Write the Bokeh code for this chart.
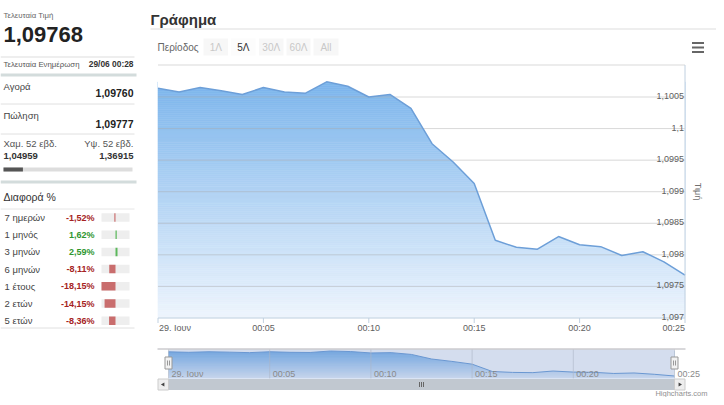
import numpy as np
from bokeh.plotting import figure
from bokeh.models import Range1d
from bokeh.core.properties import value
from bokeh.embed import file_html
from bokeh.resources import INLINE

# ---------------- data ----------------
last_price = 1.09768
last_price_text = "1,09768"
update_time = "29/06 00:28"
bid_text = "1,09760"
ask_text = "1,09777"
low_52w = 1.04959
high_52w = 1.36915
low_52w_text = "1,04959"
high_52w_text = "1,36915"

diff_periods = ["7 ημερών", "1 μηνός", "3 μηνών", "6 μηνών", "1 έτους", "2 ετών", "5 ετών"]
diff_pct = [-1.52, 1.62, 2.59, -8.11, -18.15, -14.15, -8.36]

times = ["00:00", "00:01", "00:02", "00:03", "00:04", "00:05", "00:06", "00:07",
         "00:08", "00:09", "00:10", "00:11", "00:12", "00:13", "00:14", "00:15",
         "00:16", "00:17", "00:18", "00:19", "00:20", "00:21", "00:22", "00:23",
         "00:24", "00:25"]
prices = [1.10064, 1.10058, 1.10065, 1.10060, 1.10054, 1.10065, 1.10058, 1.10056,
          1.10074, 1.10067, 1.10050, 1.10054, 1.10032, 1.09976, 1.09947, 1.09913,
          1.09823, 1.09812, 1.09809, 1.09829, 1.09816, 1.09813, 1.09799, 1.09805,
          1.09789, 1.09768]

y_ticks = [1.097, 1.0975, 1.098, 1.0985, 1.099, 1.0995, 1.1, 1.1005]
y_tick_labels = ["1,097", "1,0975", "1,098", "1,0985", "1,099", "1,0995", "1,1", "1,1005"]
x_ticks = ["00:00", "00:05", "00:10", "00:15", "00:20", "00:25"]
x_tick_labels = ["29. Ιουν", "00:05", "00:10", "00:15", "00:20", "00:25"]
period_buttons = ["1Λ", "5Λ", "30Λ", "60Λ", "All"]
selected_period = "5Λ"


def to_min(s):
    h, m = s.split(":")
    return int(h) * 60 + int(m)


t_min = [to_min(s) for s in times]
xt_min = [to_min(s) for s in x_ticks]
T0, T1 = t_min[0], t_min[-1]

# ---------------- canvas (image-pixel coordinates) ----------------
W, H = 716, 397
X0, X1 = 0, W        # image x at canvas left / right
YB, YT = H, 0        # image y at canvas bottom / top

p = figure(width=W, height=H, x_range=Range1d(X0, X1), y_range=Range1d(YB, YT),
           output_backend="svg", toolbar_location=None,
           x_axis_location=None, y_axis_location=None, min_border=0)
p.outline_line_color = None
p.grid.visible = False
p.background_fill_color = "white"
p.border_fill_color = "white"


def mapper(v0, p0, v1, p1):
    s = (p1 - p0) / (v1 - v0)
    return (lambda v: p0 + (v - v0) * s), (lambda q: v0 + (q - p0) / s)


# main chart plot area
PL, PR, PT, PB = 157.5, 684.5, 64.5, 317.5
_, mx_inv = mapper(T0, PL, T1, PR)
_, my_inv = mapper(y_ticks[0], PB, y_ticks[-1], 96.5)
# navigator area
NS = -6.0   # vertical shift of navigator block (keeps credits on canvas)
NL, NR, NT, NBOT = 168.0, 674.0, 355.0 + NS, 384.0 + NS
_, nx_inv = mapper(T0, NL, T1, NR)
_, ny_inv = mapper(min(prices), 381.5 + NS, max(prices), 356.5 + NS)
# left panel scales
LX, RX = 3, 133
_, rx_inv = mapper(low_52w, LX, high_52w, RX - 1)
dmax = max(abs(v) for v in diff_pct)
_, dx_inv = mapper(-dmax, 101, dmax, 129)

p.extra_x_ranges = {
    "mx": Range1d(mx_inv(X0), mx_inv(X1)),
    "nx": Range1d(nx_inv(X0), nx_inv(X1)),
    "rx": Range1d(rx_inv(X0), rx_inv(X1)),
    "dx": Range1d(dx_inv(X0), dx_inv(X1)),
}
p.extra_y_ranges = {
    "my": Range1d(my_inv(YB), my_inv(YT)),
    "ny": Range1d(ny_inv(YB), ny_inv(YT)),
}


def put_text(x, y, texts, size, color="#333333", align="left", baseline="middle",
             bold=False, font="Liberation Sans", angle=0.0, **kw):
    if isinstance(texts, str):
        texts = [texts]
    n = len(texts)
    xs = list(x) if isinstance(x, (list, tuple, np.ndarray)) else [x] * n
    ys = list(y) if isinstance(y, (list, tuple, np.ndarray)) else [y] * n
    p.text(x=xs, y=ys, text=texts, text_font=value(font), text_font_size=f"{size}px",
           text_color=color, text_align=align, text_baseline=baseline,
           text_font_style="bold" if bold else "normal", angle=angle, **kw)


def hline(x0, x1, y, color, width=1, **kw):
    p.segment(x0=[x0], x1=[x1], y0=[y], y1=[y], line_color=color, line_width=width, **kw)


def hexc(c):
    return "#%02x%02x%02x" % tuple(int(round(v)) for v in c)


C_TOP = np.array([124, 181, 236])
C_BOT = np.array([238, 245, 253])

# ---------------- left panel ----------------
put_text(LX, 15, "Τελευταία Τιμή", 7.8, "#666666")
put_text(LX, 33.5, last_price_text, 22, "#222222", bold=True)
hline(0, 134, 56.5, "#dddddd")
put_text(LX, 63.5, "Τελευταία Ενημέρωση", 7.8, "#555555")
put_text(RX, 63.5, update_time, 8.4, "#333333", align="right", bold=True)
hline(0, 136, 74.5, "#d3dcdc", 3)
put_text(LX, 86, "Αγορά", 9.5, "#444444")
put_text(RX, 92.5, bid_text, 10.5, "#222222", align="right", bold=True)
hline(0, 134, 103.5, "#e0e0e0")
put_text(LX, 115, "Πώληση", 9.5, "#444444")
put_text(RX, 123.5, ask_text, 10.5, "#222222", align="right", bold=True)
hline(0, 134, 133.5, "#e0e0e0")
put_text(LX, 142.5, "Χαμ. 52 εβδ.", 9.5, "#555555")
put_text(RX, 142.5, "Υψ. 52 εβδ.", 9.5, "#555555", align="right")
put_text(LX, 155, low_52w_text, 9.5, "#333333", bold=True)
put_text(RX, 155, high_52w_text, 9.5, "#333333", align="right", bold=True)
p.hbar(y=[169], left=[low_52w], right=[high_52w], height=4, fill_color="#dddddd",
       line_color=None, x_range_name="rx")
p.hbar(y=[169], left=[low_52w], right=[last_price], height=4, fill_color="#555555",
       line_color=None, x_range_name="rx")
hline(0, 136, 181.5, "#d3dcdc", 3)
put_text(LX, 196.5, "Διαφορά %", 10.5, "#333333")
hline(0, 134, 208.5, "#e6e6e6")

rows_y = [217 + i * 17.2 for i in range(len(diff_periods))]
pct_text = [("%.2f%%" % v).replace(".", ",") for v in diff_pct]
pct_color = ["#a52222" if v < 0 else "#2f962f" for v in diff_pct]
bar_color = ["#c96d6d" if v < 0 else "#5cb85c" for v in diff_pct]
put_text(LX + 1, rows_y, diff_periods, 9.5, "#444444")
p.text(x=[94] * len(rows_y), y=rows_y, text=pct_text, text_font=value("Liberation Sans"),
       text_font_size="9px", text_color=pct_color, text_align="right",
       text_baseline="middle", text_font_style="bold")
p.hbar(y=rows_y, left=-dmax, right=dmax, height=8.5, fill_color="#eeeeee",
       line_color=None, x_range_name="dx")
p.hbar(y=rows_y, left=[min(0, v) for v in diff_pct], right=[max(0, v) for v in diff_pct],
       height=8.5, fill_color=bar_color, line_color=None, x_range_name="dx")
hline(0, 134, 327.5, "#e0e0e0")

# ---------------- chart header ----------------
put_text(150, 18.5, "Γράφημα", 15, "#333333", bold=True)
hline(150, 716, 28.5, "#dddddd")
put_text(157, 46.5, "Περίοδος", 10, "#666666")
btn_l = [203, 230.5, 258.5, 286, 313]
btn_w = [24.5, 24.5, 24.5, 24, 25]
for bl, bw, lab in zip(btn_l, btn_w, period_buttons):
    sel = lab == selected_period
    p.quad(left=[bl], right=[bl + bw], top=[38], bottom=[55],
           fill_color="#f7f7f7" if not sel else "#fcfcfc", line_color=None)
    put_text(bl + bw / 2, 46.5, lab, 10, "#333333" if sel else "#c8c8c8", align="center")
for yy in (42.5, 47, 51.5):
    hline(691.5, 703.5, yy, "#666666", 2)

# ---------------- main chart ----------------
vmax = max(prices)
nb = 120
edges = np.linspace(y_ticks[0], vmax, nb + 1)
cols = [hexc(C_BOT + (C_TOP - C_BOT) * ((i + 0.5) / nb)) for i in range(nb)]
p.quad(left=T0, right=T1, bottom=edges[:-1], top=edges[1:], fill_color=cols,
       line_color=cols, line_width=0.6, x_range_name="mx", y_range_name="my")
v_top = my_inv(PT)
p.varea(x=t_min, y1=prices, y2=v_top, fill_color="white",
        x_range_name="mx", y_range_name="my")
p.segment(x0=T0, x1=T1, y0=y_ticks[1:], y1=y_ticks[1:], line_color="#a8a8a8",
          line_alpha=0.45, line_width=1, x_range_name="mx", y_range_name="my")
p.line(x=t_min, y=prices, line_color="#6d9fd8", line_width=1.5,
       x_range_name="mx", y_range_name="my")
# plot border / axes
hline(PL, PR, PT, "#d9d9d9")
p.segment(x0=[T0], x1=[T1], y0=[y_ticks[0]], y1=[y_ticks[0]], line_color="#c0d0e0",
          line_width=1, x_range_name="mx", y_range_name="my")
p.segment(x0=[T1], x1=[T1], y0=[y_ticks[0]], y1=[v_top], line_color="#c0d0e0",
          line_width=1, x_range_name="mx", y_range_name="my")
p.segment(x0=xt_min, x1=xt_min, y0=PB, y1=PB + 5, line_color="#c0d0e0",
          line_width=1, x_range_name="mx")
put_text(xt_min[0], 327.5, x_tick_labels[0], 9, "#606060", x_offset=1, x_range_name="mx")
put_text(xt_min[1:-1], 327.5, x_tick_labels[1:-1], 9, "#606060", align="center",
         x_range_name="mx")
put_text(xt_min[-1], 327.5, x_tick_labels[-1], 9, "#606060", align="right",
         x_range_name="mx")
put_text([T1] * len(y_ticks), y_ticks, y_tick_labels, 9, "#606060", align="right",
         baseline="alphabetic", x_offset=-1, y_offset=-1,
         x_range_name="mx", y_range_name="my")
put_text(697, (PT + PB) / 2, "Τιμή", 9, "#707070", align="center", angle=-np.pi / 2)

# ---------------- navigator ----------------
nv_bot = ny_inv(NBOT)
nedges = np.linspace(nv_bot, vmax, 41)
ncols = [hexc(C_BOT + (C_TOP - C_BOT) * ((i + 0.5) / 40)) for i in range(40)]
p.quad(left=T0, right=T1, bottom=nedges[:-1], top=nedges[1:], fill_color=ncols,
       line_color=ncols, line_width=0.6, x_range_name="nx", y_range_name="ny")
p.varea(x=t_min, y1=prices, y2=ny_inv(NT), fill_color="white",
        x_range_name="nx", y_range_name="ny")
p.line(x=t_min, y=prices, line_color="#6d9fd8", line_width=1,
       x_range_name="nx", y_range_name="ny")
p.segment(x0=xt_min, x1=xt_min, y0=NT, y1=NBOT, line_color="#c8c8c8", line_alpha=0.6,
          line_width=1, x_range_name="nx")
p.quad(left=[NL], right=[NR], top=[NT], bottom=[NBOT], fill_color="#6685c2",
       fill_alpha=0.28, line_color=None)
put_text(xt_min, 379.5 + NS, x_tick_labels, 9, "#8a8a8a", x_offset=3, x_range_name="nx")
hline(157, 685, NT - 0.5, "#b2b1b6")
for hx in (NL, NR):
    p.quad(left=[hx - 3.5], right=[hx + 3.5], top=[362.5 + NS], bottom=[374.5 + NS],
           fill_color="#f2f2f2", line_color="#999999", line_width=1)
    p.segment(x0=[hx - 1, hx + 1], x1=[hx - 1, hx + 1], y0=[366 + NS] * 2,
              y1=[371 + NS] * 2, line_color="#999999", line_width=1)
# scrollbar
SB_T, SB_B = NBOT + 0.5, NBOT + 11.5
p.quad(left=[NL], right=[NR], top=[SB_T], bottom=[SB_B], fill_color="#c1c8d0",
       line_color=None)
for bl in (157.5, NR):
    p.quad(left=[bl], right=[bl + 10.5], top=[SB_T], bottom=[SB_B],
           fill_color="#eeeeee", line_color="#cccccc", line_width=1)
SB_M = (SB_T + SB_B) / 2
p.scatter(x=[162.7], y=[SB_M], marker="triangle", size=4, angle=np.pi / 2,
          fill_color="#444444", line_color=None)
p.scatter(x=[679.2], y=[SB_M], marker="triangle", size=4, angle=-np.pi / 2,
          fill_color="#444444", line_color=None)
p.segment(x0=[419, 421, 423], x1=[419, 421, 423], y0=[SB_M - 2.5] * 3,
          y1=[SB_M + 2.5] * 3, line_color="#666666", line_width=1)
put_text(707, 392.5, "Highcharts.com", 7.5, "#909090", align="right")

open("out.html", "w").write(file_html(p, INLINE))
